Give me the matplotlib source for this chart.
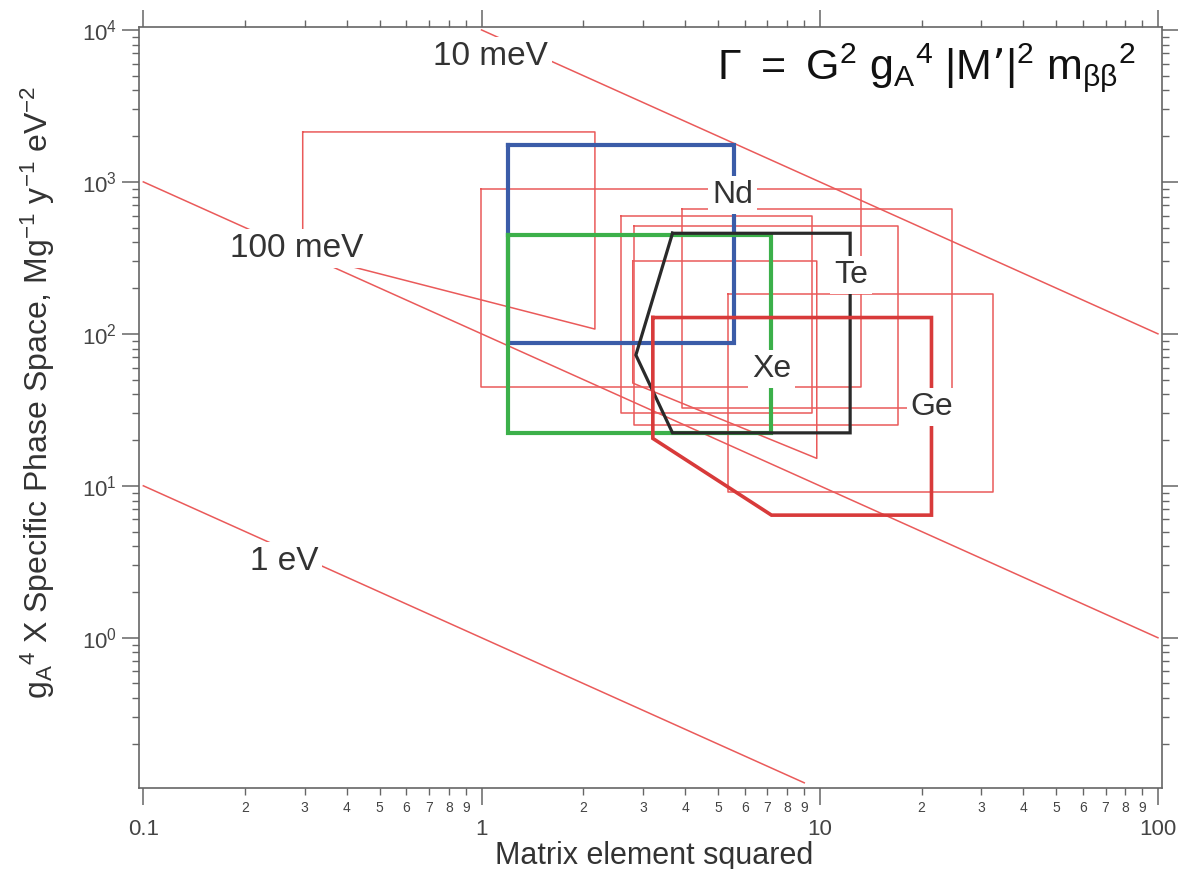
import numpy as np
import matplotlib
matplotlib.use('Agg')
from matplotlib import pyplot as plt
from matplotlib.ticker import (FixedLocator, FixedFormatter, LogLocator,
                               LogFormatterMathtext, NullFormatter)

plt.rcParams['font.family'] = ['Liberation Sans', 'DejaVu Sans']
plt.rcParams['mathtext.default'] = 'regular'

# lines of constant effective Majorana mass (end points)
mass_names = ['10 meV', '100 meV', '1 eV']
mass_x0 = [1.0, 0.1, 0.1]
mass_y0 = [1.0e4, 1.0e3, 10.0]
mass_x1 = [100.0, 100.0, 9.0]
mass_y1 = [100.0, 1.0, 0.111]
mass_lab_x = [1.06, 0.285, 0.261]
mass_lab_y = [6640, 367, 3.19]

# isotope regions: matrix element squared vs g_A^4 x phase space
nd_x = [1.2, 5.57, 5.57, 1.2]
nd_y = [1750, 1750, 87, 87]
xe_x = [1.2, 7.2, 7.2, 1.2]
xe_y = [447, 447, 22.4, 22.4]
te_x = [3.67, 12.3, 12.3, 3.67, 2.86]
te_y = [459, 459, 22.3, 22.3, 72.5]
ge_x = [3.21, 21.4, 21.4, 7.2, 3.21]
ge_y = [128, 128, 6.41, 6.41, 20.5]

iso_names = ['Nd', 'Xe', 'Te', 'Ge']
iso_colors = ['#3b5ca8', '#3cb04a', '#2a2a2a', '#d83a3a']
iso_lw = [3.0, 3.0, 2.3, 2.6]
iso_lab_x = [5.53, 7.22, 12.36, 21.45]
iso_lab_y = [820, 58.6, 245, 33.0]

# single calculations (thin outlines)
calc_x = [
    [0.296, 2.164, 2.164, 0.296],
    [0.994, 13.2, 13.2, 0.994],
    [3.905, 24.6, 24.6, 3.905],
    [2.58, 9.46, 9.46, 2.58],
    [2.83, 16.98, 16.98, 2.83],
    [2.80, 9.80, 9.80, 2.80],
    [5.36, 32.55, 32.55, 5.36],
]
calc_y = [
    [2131, 2131, 107.5, 335],
    [894, 894, 44.9, 44.9],
    [663, 663, 32.3, 32.3],
    [596.5, 596.5, 30.0, 30.0],
    [514.8, 514.8, 25.1, 25.1],
    [301.5, 301.5, 15.15, 47.4],
    [182.8, 182.8, 9.13, 9.13],
]

x_major = [0.1, 1, 10, 100]
x_major_labels = ['0.1', '1', '10', '100']
x_minor = [d * dec for dec in [0.1, 1, 10] for d in range(2, 10)]
x_minor_labels = [str(d) for dec in [0.1, 1, 10] for d in range(2, 10)]

thin_red = '#ea5a5a'

fig = plt.figure(figsize=(11.78, 8.69), dpi=100)
ax = fig.add_axes([139 / 1178, 1 - 788 / 869, (1162 - 139) / 1178, (788 - 26.7) / 869])
ax.set_xscale('log')
ax.set_yscale('log')

for x0, y0, x1, y1 in zip(mass_x0, mass_y0, mass_x1, mass_y1):
    ax.plot([x0, x1], [y0, y1], color=thin_red, lw=1.1, zorder=2)

for xs, ys in zip(calc_x, calc_y):
    ax.plot(xs + xs[:1], ys + ys[:1], color=thin_red, lw=1.1, zorder=2)

iso_x = [nd_x, xe_x, te_x, ge_x]
iso_y = [nd_y, xe_y, te_y, ge_y]
for i, (xs, ys) in enumerate(zip(iso_x, iso_y)):
    ax.plot(xs + xs[:1], ys + ys[:1], color=iso_colors[i], lw=iso_lw[i],
            solid_joinstyle='miter', zorder=3 + i)

box = dict(boxstyle='square,pad=0.12', fc='white', ec='none')
for name, lx, ly in zip(mass_names, mass_lab_x, mass_lab_y):
    ax.text(lx, ly, name, fontsize=24, color='#333333', ha='center',
            va='center', bbox=box, zorder=10)
for name, lx, ly in zip(iso_names, iso_lab_x, iso_lab_y):
    ax.text(lx, ly, name, fontsize=23, color='#333333', ha='center',
            va='center', bbox=box, zorder=10)

ax.set_xlim(0.0971, 102.8)
ax.set_ylim(0.1026, 1.05e4)

ax.xaxis.set_major_locator(FixedLocator(x_major))
ax.xaxis.set_major_formatter(FixedFormatter(x_major_labels))
ax.xaxis.set_minor_locator(FixedLocator(x_minor))
ax.xaxis.set_minor_formatter(FixedFormatter(x_minor_labels))
ax.yaxis.set_major_locator(LogLocator(base=10, numticks=20))
ax.yaxis.set_major_formatter(LogFormatterMathtext())
ax.yaxis.set_minor_locator(LogLocator(base=10, subs=np.arange(2, 10), numticks=20))
ax.yaxis.set_minor_formatter(NullFormatter())

ax.tick_params(which='both', direction='out', top=True, right=True,
               color='#666666', labelcolor='#444444')
ax.tick_params(which='major', length=12, width=1.1)
ax.tick_params(which='minor', length=5, width=1.0)
ax.tick_params(axis='x', which='major', labelsize=16, pad=10)
ax.tick_params(axis='x', which='minor', labelsize=10, pad=4)
ax.tick_params(axis='y', which='major', labelsize=16, pad=4)
for s in ax.spines.values():
    s.set_color('#666666')
    s.set_linewidth(1.2)

fig.text(654 / 1178, 1 - 864 / 869, 'Matrix element squared', fontsize=22,
         color='#333333', ha='center', va='baseline')
fig.text(38 / 1178, 1 - 392 / 869,
         r'$g_A{}^4$ X Specific Phase Space, Mg$^{-1}$ y$^{-1}$ eV$^{-2}$',
         fontsize=23, color='#333333', ha='center', va='center', rotation=90)
fig.text(1136 / 1178, 1 - 79 / 869,
         r'$\Gamma\;=\;G^2\;g_A{}^4\;|M’|^2\;m_{\beta\beta}{}^2$',
         fontsize=31, color='#111111', ha='right', va='baseline')

plt.savefig('out.png', dpi=100)
